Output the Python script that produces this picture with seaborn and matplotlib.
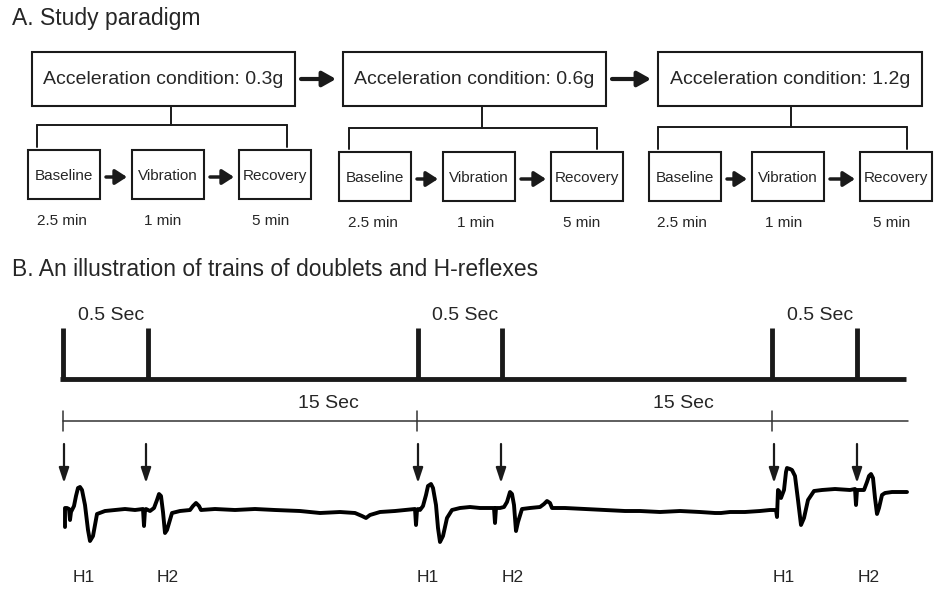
import matplotlib
matplotlib.use("Agg")
import matplotlib.pyplot as plt
from matplotlib.patches import Rectangle
import seaborn as sns
import pandas as pd

sns.set_style("white")
plt.rcParams["font.family"] = ["Liberation Sans", "DejaVu Sans"]

# ---------------- data ----------------
conditions = ["Acceleration condition: 0.3g",
              "Acceleration condition: 0.6g",
              "Acceleration condition: 1.2g"]
phases = ["Baseline", "Vibration", "Recovery"]
durations = ["2.5 min", "1 min", "5 min"]

# layout of the three groups (pixel space of the figure)
top_left = [32, 343, 658]
top_right = [295, 606, 922]
branch_x = [171, 482, 791]
branch_y = [125, 128, 127]
branch_ends = [(37, 287), (349, 597), (658, 907)]
sub_left = [[28, 132, 239], [339, 443, 551], [649, 752, 860]]
sub_top = [150, 152, 152]
dur_x = [[62, 163, 271], [373, 476, 582], [682, 784, 892]]

# stimulation train (pixel x of pulses)
pulse_x = [63, 148, 418, 502, 772, 857]
gap_label_x = [111, 465, 820]
interval_ticks = [63, 417, 772]
interval_label_x = [328, 683]
arrow_x = [64, 146, 418, 501, 774, 857]
h_labels = ["H1", "H2", "H1", "H2", "H1", "H2"]
h_label_x = [84, 168, 428, 513, 784, 869]

# EMG trace as (x, y) pairs
trace_pts = [
    (65, 527), (65, 508), (67, 508), (69, 509), (70, 520), (71, 512), (72, 510),
    (74, 506), (76, 496), (78, 488), (80, 487), (82, 490), (85, 505), (88, 530),
    (90, 541), (93, 536), (97, 514), (105, 511), (115, 510), (125, 509), (135, 510),
    (143, 509), (144, 526), (145, 510), (146, 509), (150, 511), (154, 508),
    (157, 500), (159, 494), (161, 496), (163, 512), (165, 533), (167, 530),
    (172, 513), (180, 511), (190, 510), (193, 506), (196, 503), (199, 506),
    (201, 510), (215, 509), (235, 510), (255, 509), (275, 510), (300, 511),
    (320, 513), (340, 512), (355, 513), (362, 516), (366, 518), (370, 515),
    (380, 512), (395, 511), (405, 510), (415, 509), (416, 525), (417, 510),
    (418, 509), (420, 510), (423, 506), (426, 495), (428, 486), (431, 484),
    (433, 488), (436, 505), (438, 528), (440, 542), (443, 536), (447, 518),
    (452, 510), (460, 508), (470, 507), (480, 508), (490, 508), (494, 508),
    (495, 523), (496, 508), (500, 508), (504, 507), (507, 502), (510, 492),
    (512, 494), (514, 505), (516, 531), (518, 522), (522, 509), (530, 508),
    (540, 507), (544, 504), (547, 501), (550, 503), (552, 508), (565, 508),
    (585, 509), (605, 510), (625, 511), (640, 511), (660, 512), (680, 511),
    (700, 512), (715, 513), (721, 513), (730, 512), (745, 512), (760, 511),
    (770, 510), (776, 510), (777, 517), (778, 490), (779, 491), (781, 498),
    (784, 490), (786, 472), (787, 468), (790, 469), (792, 470), (795, 476),
    (798, 500), (801, 525), (804, 518), (808, 500), (814, 491), (822, 490),
    (835, 489), (850, 490), (855, 489), (856, 505), (857, 490), (860, 490),
    (864, 490), (867, 482), (869, 476), (871, 474), (873, 478), (875, 498),
    (877, 514), (879, 508), (882, 495), (885, 493), (892, 492), (900, 492),
    (907, 492),
]

INK = "#1a1a1a"
TXT = "#262626"

fig = plt.figure(figsize=(9.34, 5.89), dpi=100)
ax = fig.add_axes([0, 0, 1, 1])

# ---------------- A. study paradigm ----------------
ax.text(12, 19, "A. Study paradigm", fontsize=16.5, color=TXT, va="center", ha="left")

for g in range(3):
    ax.add_patch(Rectangle((top_left[g], 52), top_right[g] - top_left[g], 54,
                           fill=False, ec=INK, lw=1.5))
    ax.text((top_left[g] + top_right[g]) / 2, 80, conditions[g], fontsize=14,
            color=TXT, ha="center", va="center")
    # branch
    ax.plot([branch_x[g], branch_x[g]], [106, branch_y[g]], color=INK, lw=1.4)
    l, r = branch_ends[g]
    ax.plot([l, r], [branch_y[g], branch_y[g]], color=INK, lw=1.4)
    ax.plot([l, l], [branch_y[g], sub_top[g] - 3], color=INK, lw=1.4)
    ax.plot([r, r], [branch_y[g], sub_top[g] - 3], color=INK, lw=1.4)
    for k in range(3):
        x0 = sub_left[g][k]
        ax.add_patch(Rectangle((x0, sub_top[g]), 72, 49, fill=False, ec=INK, lw=1.5))
        ax.text(x0 + 36, sub_top[g] + 26, phases[k], fontsize=11, color=TXT,
                ha="center", va="center")
        ax.text(dur_x[g][k], 223 if g else 221, durations[k], fontsize=11,
                color=TXT, ha="center", va="center")
        if k < 2:
            xs = x0 + 72 + 6
            xe = sub_left[g][k + 1] - 5
            ax.annotate("", xy=(xe, sub_top[g] + 27), xytext=(xs, sub_top[g] + 27),
                        arrowprops=dict(arrowstyle="-|>,head_length=0.7,head_width=0.45",
                                        lw=2.5, color=INK, shrinkA=0, shrinkB=0))
    if g < 2:
        ax.annotate("", xy=(top_left[g + 1] - 7, 79), xytext=(top_right[g] + 6, 79),
                    arrowprops=dict(arrowstyle="-|>,head_length=0.8,head_width=0.45",
                                    lw=3, color=INK, shrinkA=0, shrinkB=0))

# ---------------- B. trains of doublets ----------------
ax.text(12, 270, "B. An illustration of trains of doublets and H-reflexes",
        fontsize=16.5, color=TXT, va="center", ha="left")

ax.plot([60, 906], [379, 379], color=INK, lw=3.5, solid_capstyle="butt")
for px in pulse_x:
    ax.plot([px, px], [328, 379], color=INK, lw=3.5, solid_capstyle="butt")
for lx in gap_label_x:
    ax.text(lx, 315, "0.5 Sec", fontsize=14, color=TXT, ha="center", va="center")

ax.plot([63, 908], [421, 421], color="#333333", lw=1.1)
for tx in interval_ticks:
    ax.plot([tx, tx], [411, 431], color="#333333", lw=1.1)
for lx in interval_label_x:
    ax.text(lx, 403, "15 Sec", fontsize=14, color=TXT, ha="center", va="center")

for axx in arrow_x:
    ax.annotate("", xy=(axx, 483), xytext=(axx, 444),
                arrowprops=dict(arrowstyle="-|>,head_length=0.9,head_width=0.3",
                                lw=1.6, color=INK, shrinkA=0, shrinkB=0))

trace = pd.DataFrame(trace_pts, columns=["x", "y"])
sns.lineplot(data=trace, x="x", y="y", sort=False, color="black", lw=2.8,
             estimator=None, ax=ax)

for lbl, hx in zip(h_labels, h_label_x):
    ax.text(hx, 577, lbl, fontsize=12.5, color=TXT, ha="center", va="center")

ax.set_xlim(0, 934)
ax.set_ylim(589, 0)
ax.axis("off")

fig.savefig("out.png", dpi=100, facecolor="white")
